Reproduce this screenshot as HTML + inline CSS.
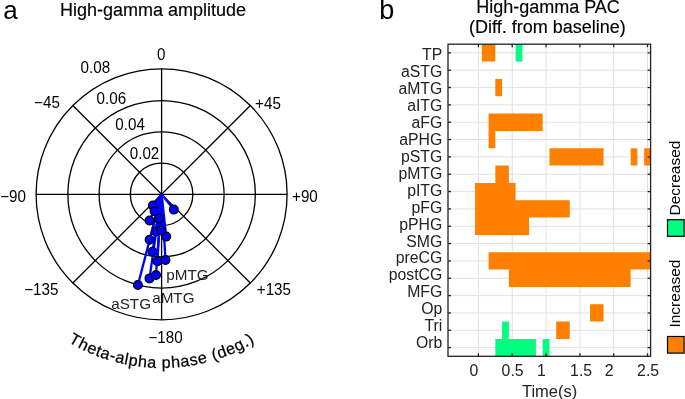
<!DOCTYPE html><html><head><meta charset="utf-8"><style>html,body{margin:0;padding:0;background:#fff;width:685px;height:399px;overflow:hidden}svg{display:block;will-change:transform}text{font-family:"Liberation Sans",sans-serif}</style></head><body>
<svg width="685" height="399" viewBox="0 0 685 399">
<text x="3.3" y="19.0" font-size="26" fill="#000">a</text>
<text x="60" y="15.6" font-size="18" fill="#000" stroke="#000" stroke-width="0.15">High-gamma amplitude</text>
<circle cx="161.6" cy="194.3" r="31.25" fill="none" stroke="#000" stroke-width="1.3"/>
<circle cx="161.6" cy="194.3" r="62.5" fill="none" stroke="#000" stroke-width="1.3"/>
<circle cx="161.6" cy="194.3" r="93.75" fill="none" stroke="#000" stroke-width="1.3"/>
<circle cx="161.6" cy="194.3" r="125.5" fill="none" stroke="#000" stroke-width="1.3"/>
<line x1="161.60" y1="319.80" x2="161.60" y2="68.80" stroke="#000" stroke-width="1.3"/>
<line x1="72.86" y1="283.04" x2="250.34" y2="105.56" stroke="#000" stroke-width="1.3"/>
<line x1="36.10" y1="194.30" x2="287.10" y2="194.30" stroke="#000" stroke-width="1.3"/>
<line x1="72.86" y1="105.56" x2="250.34" y2="283.04" stroke="#000" stroke-width="1.3"/>
<text transform="translate(161.25,60.4) scale(0.95,1)" font-size="16" text-anchor="middle" fill="#000">0</text>
<text transform="translate(95.3,73.4) scale(0.95,1)" font-size="16" text-anchor="middle" fill="#000">0.08</text>
<text transform="translate(111.4,104.2) scale(0.95,1)" font-size="16" text-anchor="middle" fill="#000">0.06</text>
<text transform="translate(130.1,130.1) scale(0.95,1)" font-size="16" text-anchor="middle" fill="#000">0.04</text>
<text transform="translate(144.5,158.9) scale(0.95,1)" font-size="16" text-anchor="middle" fill="#000">0.02</text>
<text transform="translate(47.0,108.2) scale(0.95,1)" font-size="16" text-anchor="middle" fill="#000">&#8722;45</text>
<text transform="translate(268.0,108.9) scale(0.95,1)" font-size="16" text-anchor="middle" fill="#000">+45</text>
<text transform="translate(25.9,202.1) scale(0.95,1)" font-size="16" text-anchor="end" fill="#000">&#8722;90</text>
<text transform="translate(304.9,202.1) scale(0.95,1)" font-size="16" text-anchor="middle" fill="#000">+90</text>
<text transform="translate(41.3,295.3) scale(0.95,1)" font-size="16" text-anchor="middle" fill="#000">&#8722;135</text>
<text transform="translate(273.9,295.3) scale(0.95,1)" font-size="16" text-anchor="middle" fill="#000">+135</text>
<text transform="translate(165.5,342.9) scale(0.95,1)" font-size="16" text-anchor="middle" fill="#000">&#8722;180</text>
<line x1="161.6" y1="194.3" x2="137.9" y2="285.0" stroke="#0000ff" stroke-width="2.3"/>
<circle cx="137.9" cy="285.0" r="4.4" fill="#0000ff" stroke="#000" stroke-width="1.2"/>
<line x1="161.6" y1="194.3" x2="149.5" y2="278.4" stroke="#0000ff" stroke-width="2.3"/>
<circle cx="149.5" cy="278.4" r="4.4" fill="#0000ff" stroke="#000" stroke-width="1.2"/>
<line x1="161.6" y1="194.3" x2="149.6" y2="239.7" stroke="#0000ff" stroke-width="2.3"/>
<line x1="161.6" y1="194.3" x2="166.2" y2="236.6" stroke="#0000ff" stroke-width="2.3"/>
<line x1="161.6" y1="194.3" x2="165.5" y2="260.0" stroke="#0000ff" stroke-width="2.3"/>
<line x1="161.6" y1="194.3" x2="173.8" y2="209.6" stroke="#0000ff" stroke-width="2.3"/>
<line x1="161.6" y1="194.3" x2="161.2" y2="230.5" stroke="#0000ff" stroke-width="2.3"/>
<line x1="161.6" y1="194.3" x2="152.5" y2="251.8" stroke="#0000ff" stroke-width="2.3"/>
<line x1="161.6" y1="194.3" x2="152.9" y2="205.6" stroke="#0000ff" stroke-width="2.3"/>
<circle cx="152.9" cy="205.6" r="4.4" fill="#0000ff" stroke="#000" stroke-width="1.2"/>
<line x1="161.6" y1="194.3" x2="149.5" y2="220.5" stroke="#0000ff" stroke-width="2.3"/>
<line x1="161.6" y1="194.3" x2="154.6" y2="211.2" stroke="#0000ff" stroke-width="2.3"/>
<circle cx="154.6" cy="211.2" r="4.4" fill="#0000ff" stroke="#000" stroke-width="1.2"/>
<line x1="161.6" y1="194.3" x2="159.1" y2="218.6" stroke="#0000ff" stroke-width="2.3"/>
<line x1="161.6" y1="194.3" x2="156.0" y2="231.4" stroke="#0000ff" stroke-width="2.3"/>
<circle cx="152.5" cy="251.8" r="4.4" fill="#0000ff" stroke="#000" stroke-width="1.2"/>
<line x1="161.6" y1="194.3" x2="157.4" y2="261.3" stroke="#0000ff" stroke-width="2.3"/>
<line x1="161.6" y1="194.3" x2="156.0" y2="275.0" stroke="#0000ff" stroke-width="2.3"/>
<circle cx="156.0" cy="275.0" r="4.4" fill="#0000ff" stroke="#000" stroke-width="1.2"/>
<circle cx="149.5" cy="220.5" r="4.4" fill="#0000ff" stroke="#000" stroke-width="1.2"/>
<circle cx="159.1" cy="218.6" r="4.4" fill="#0000ff" stroke="#000" stroke-width="1.2"/>
<circle cx="149.6" cy="239.7" r="4.4" fill="#0000ff" stroke="#000" stroke-width="1.2"/>
<circle cx="156.0" cy="231.4" r="4.4" fill="#0000ff" stroke="#000" stroke-width="1.2"/>
<circle cx="166.2" cy="236.6" r="4.4" fill="#0000ff" stroke="#000" stroke-width="1.2"/>
<circle cx="161.2" cy="230.5" r="4.4" fill="#0000ff" stroke="#000" stroke-width="1.2"/>
<circle cx="157.4" cy="261.3" r="4.4" fill="#0000ff" stroke="#000" stroke-width="1.2"/>
<circle cx="165.5" cy="260.0" r="4.4" fill="#0000ff" stroke="#000" stroke-width="1.2"/>
<circle cx="173.8" cy="209.6" r="4.4" fill="#0000ff" stroke="#000" stroke-width="1.2"/>
<text transform="translate(166.3,280.2) scale(1.03,1)" font-size="14.8" text-anchor="start" fill="#222">pMTG</text>
<text transform="translate(152.2,303.0) scale(1.03,1)" font-size="14.8" text-anchor="start" fill="#222">aMTG</text>
<text transform="translate(111.2,309.1) scale(1.03,1)" font-size="14.8" text-anchor="start" fill="#222">aSTG</text>
<path id="arc" d="M -20.00 186.2 A 181.8 181.8 0 0 0 343.60 186.2" fill="none"/>
<text font-size="16.2" fill="#000" stroke="#000" stroke-width="0.25" letter-spacing="0.62"><textPath href="#arc" startOffset="50%" text-anchor="middle">Theta-alpha phase (deg.)</textPath></text>
<text x="379.2" y="18.9" font-size="27" fill="#000">b</text>
<text x="548" y="12.8" font-size="18" text-anchor="middle" fill="#000" stroke="#000" stroke-width="0.15">High-gamma PAC</text>
<text x="547.4" y="32.6" font-size="18" text-anchor="middle" fill="#000" stroke="#000" stroke-width="0.15">(Diff. from baseline)</text>
<line x1="448.0" y1="52.87" x2="650.6" y2="52.87" stroke="#e0e0e0" stroke-width="1"/>
<line x1="448.0" y1="70.21" x2="650.6" y2="70.21" stroke="#e0e0e0" stroke-width="1"/>
<line x1="448.0" y1="87.55" x2="650.6" y2="87.55" stroke="#e0e0e0" stroke-width="1"/>
<line x1="448.0" y1="104.89" x2="650.6" y2="104.89" stroke="#e0e0e0" stroke-width="1"/>
<line x1="448.0" y1="122.23" x2="650.6" y2="122.23" stroke="#e0e0e0" stroke-width="1"/>
<line x1="448.0" y1="139.56" x2="650.6" y2="139.56" stroke="#e0e0e0" stroke-width="1"/>
<line x1="448.0" y1="156.90" x2="650.6" y2="156.90" stroke="#e0e0e0" stroke-width="1"/>
<line x1="448.0" y1="174.24" x2="650.6" y2="174.24" stroke="#e0e0e0" stroke-width="1"/>
<line x1="448.0" y1="191.58" x2="650.6" y2="191.58" stroke="#e0e0e0" stroke-width="1"/>
<line x1="448.0" y1="208.92" x2="650.6" y2="208.92" stroke="#e0e0e0" stroke-width="1"/>
<line x1="448.0" y1="226.26" x2="650.6" y2="226.26" stroke="#e0e0e0" stroke-width="1"/>
<line x1="448.0" y1="243.60" x2="650.6" y2="243.60" stroke="#e0e0e0" stroke-width="1"/>
<line x1="448.0" y1="260.94" x2="650.6" y2="260.94" stroke="#e0e0e0" stroke-width="1"/>
<line x1="448.0" y1="278.27" x2="650.6" y2="278.27" stroke="#e0e0e0" stroke-width="1"/>
<line x1="448.0" y1="295.61" x2="650.6" y2="295.61" stroke="#e0e0e0" stroke-width="1"/>
<line x1="448.0" y1="312.95" x2="650.6" y2="312.95" stroke="#e0e0e0" stroke-width="1"/>
<line x1="448.0" y1="330.29" x2="650.6" y2="330.29" stroke="#e0e0e0" stroke-width="1"/>
<line x1="448.0" y1="347.63" x2="650.6" y2="347.63" stroke="#e0e0e0" stroke-width="1"/>
<line x1="478.40" y1="44.2" x2="478.40" y2="356.3" stroke="#e0e0e0" stroke-width="1"/>
<line x1="512.23" y1="44.2" x2="512.23" y2="356.3" stroke="#e0e0e0" stroke-width="1"/>
<line x1="546.05" y1="44.2" x2="546.05" y2="356.3" stroke="#e0e0e0" stroke-width="1"/>
<line x1="579.88" y1="44.2" x2="579.88" y2="356.3" stroke="#e0e0e0" stroke-width="1"/>
<line x1="613.70" y1="44.2" x2="613.70" y2="356.3" stroke="#e0e0e0" stroke-width="1"/>
<line x1="647.52" y1="44.2" x2="647.52" y2="356.3" stroke="#e0e0e0" stroke-width="1"/>
<path d="M481.80 44.20H495.33V61.54H481.80Z M495.33 78.88H502.10V96.22H495.33Z M488.56 113.56H542.69V130.89H488.56Z M488.56 130.89H495.33V148.23H488.56Z M549.45 148.23H603.57V165.57H549.45Z M630.63 148.23H637.39V165.57H630.63Z M644.16 148.23H650.60V165.57H644.16Z M495.33 165.57H508.86V182.91H495.33Z M475.04 182.91H515.62V200.25H475.04Z M475.04 200.25H569.75V217.59H475.04Z M475.04 217.59H529.15V234.93H475.04Z M488.56 252.27H650.60V269.61H488.56Z M508.86 269.61H630.63V286.94H508.86Z M590.04 304.28H603.57V321.62H590.04Z M556.22 321.62H569.75V338.96H556.22Z" fill="#ff8000"/>
<path d="M515.62 44.20H522.39V61.54H515.62Z M502.10 321.62H508.86V338.96H502.10Z M495.33 338.96H535.92V356.30H495.33Z M542.69 338.96H549.45V356.30H542.69Z" fill="#00ff80"/>
<line x1="448.0" y1="52.87" x2="451.0" y2="52.87" stroke="#222" stroke-width="1.3"/>
<line x1="647.6" y1="52.87" x2="650.6" y2="52.87" stroke="#222" stroke-width="1.3"/>
<line x1="448.0" y1="70.21" x2="451.0" y2="70.21" stroke="#222" stroke-width="1.3"/>
<line x1="647.6" y1="70.21" x2="650.6" y2="70.21" stroke="#222" stroke-width="1.3"/>
<line x1="448.0" y1="87.55" x2="451.0" y2="87.55" stroke="#222" stroke-width="1.3"/>
<line x1="647.6" y1="87.55" x2="650.6" y2="87.55" stroke="#222" stroke-width="1.3"/>
<line x1="448.0" y1="104.89" x2="451.0" y2="104.89" stroke="#222" stroke-width="1.3"/>
<line x1="647.6" y1="104.89" x2="650.6" y2="104.89" stroke="#222" stroke-width="1.3"/>
<line x1="448.0" y1="122.23" x2="451.0" y2="122.23" stroke="#222" stroke-width="1.3"/>
<line x1="647.6" y1="122.23" x2="650.6" y2="122.23" stroke="#222" stroke-width="1.3"/>
<line x1="448.0" y1="139.56" x2="451.0" y2="139.56" stroke="#222" stroke-width="1.3"/>
<line x1="647.6" y1="139.56" x2="650.6" y2="139.56" stroke="#222" stroke-width="1.3"/>
<line x1="448.0" y1="156.90" x2="451.0" y2="156.90" stroke="#222" stroke-width="1.3"/>
<line x1="647.6" y1="156.90" x2="650.6" y2="156.90" stroke="#222" stroke-width="1.3"/>
<line x1="448.0" y1="174.24" x2="451.0" y2="174.24" stroke="#222" stroke-width="1.3"/>
<line x1="647.6" y1="174.24" x2="650.6" y2="174.24" stroke="#222" stroke-width="1.3"/>
<line x1="448.0" y1="191.58" x2="451.0" y2="191.58" stroke="#222" stroke-width="1.3"/>
<line x1="647.6" y1="191.58" x2="650.6" y2="191.58" stroke="#222" stroke-width="1.3"/>
<line x1="448.0" y1="208.92" x2="451.0" y2="208.92" stroke="#222" stroke-width="1.3"/>
<line x1="647.6" y1="208.92" x2="650.6" y2="208.92" stroke="#222" stroke-width="1.3"/>
<line x1="448.0" y1="226.26" x2="451.0" y2="226.26" stroke="#222" stroke-width="1.3"/>
<line x1="647.6" y1="226.26" x2="650.6" y2="226.26" stroke="#222" stroke-width="1.3"/>
<line x1="448.0" y1="243.60" x2="451.0" y2="243.60" stroke="#222" stroke-width="1.3"/>
<line x1="647.6" y1="243.60" x2="650.6" y2="243.60" stroke="#222" stroke-width="1.3"/>
<line x1="448.0" y1="260.94" x2="451.0" y2="260.94" stroke="#222" stroke-width="1.3"/>
<line x1="647.6" y1="260.94" x2="650.6" y2="260.94" stroke="#222" stroke-width="1.3"/>
<line x1="448.0" y1="278.27" x2="451.0" y2="278.27" stroke="#222" stroke-width="1.3"/>
<line x1="647.6" y1="278.27" x2="650.6" y2="278.27" stroke="#222" stroke-width="1.3"/>
<line x1="448.0" y1="295.61" x2="451.0" y2="295.61" stroke="#222" stroke-width="1.3"/>
<line x1="647.6" y1="295.61" x2="650.6" y2="295.61" stroke="#222" stroke-width="1.3"/>
<line x1="448.0" y1="312.95" x2="451.0" y2="312.95" stroke="#222" stroke-width="1.3"/>
<line x1="647.6" y1="312.95" x2="650.6" y2="312.95" stroke="#222" stroke-width="1.3"/>
<line x1="448.0" y1="330.29" x2="451.0" y2="330.29" stroke="#222" stroke-width="1.3"/>
<line x1="647.6" y1="330.29" x2="650.6" y2="330.29" stroke="#222" stroke-width="1.3"/>
<line x1="448.0" y1="347.63" x2="451.0" y2="347.63" stroke="#222" stroke-width="1.3"/>
<line x1="647.6" y1="347.63" x2="650.6" y2="347.63" stroke="#222" stroke-width="1.3"/>
<line x1="478.40" y1="44.2" x2="478.40" y2="47.2" stroke="#222" stroke-width="1.3"/>
<line x1="478.40" y1="353.3" x2="478.40" y2="356.3" stroke="#222" stroke-width="1.3"/>
<line x1="512.23" y1="44.2" x2="512.23" y2="47.2" stroke="#222" stroke-width="1.3"/>
<line x1="512.23" y1="353.3" x2="512.23" y2="356.3" stroke="#222" stroke-width="1.3"/>
<line x1="546.05" y1="44.2" x2="546.05" y2="47.2" stroke="#222" stroke-width="1.3"/>
<line x1="546.05" y1="353.3" x2="546.05" y2="356.3" stroke="#222" stroke-width="1.3"/>
<line x1="579.88" y1="44.2" x2="579.88" y2="47.2" stroke="#222" stroke-width="1.3"/>
<line x1="579.88" y1="353.3" x2="579.88" y2="356.3" stroke="#222" stroke-width="1.3"/>
<line x1="613.70" y1="44.2" x2="613.70" y2="47.2" stroke="#222" stroke-width="1.3"/>
<line x1="613.70" y1="353.3" x2="613.70" y2="356.3" stroke="#222" stroke-width="1.3"/>
<line x1="647.52" y1="44.2" x2="647.52" y2="47.2" stroke="#222" stroke-width="1.3"/>
<line x1="647.52" y1="353.3" x2="647.52" y2="356.3" stroke="#222" stroke-width="1.3"/>
<rect x="448.0" y="44.2" width="202.60" height="312.10" fill="none" stroke="#222" stroke-width="1.3"/>
<text x="442.3" y="60.20" font-size="15.8" text-anchor="end" fill="#222">TP</text>
<text x="442.3" y="77.14" font-size="15.8" text-anchor="end" fill="#222">aSTG</text>
<text x="442.3" y="94.08" font-size="15.8" text-anchor="end" fill="#222">aMTG</text>
<text x="442.3" y="111.02" font-size="15.8" text-anchor="end" fill="#222">aITG</text>
<text x="442.3" y="127.96" font-size="15.8" text-anchor="end" fill="#222">aFG</text>
<text x="442.3" y="144.90" font-size="15.8" text-anchor="end" fill="#222">aPHG</text>
<text x="442.3" y="161.84" font-size="15.8" text-anchor="end" fill="#222">pSTG</text>
<text x="442.3" y="178.78" font-size="15.8" text-anchor="end" fill="#222">pMTG</text>
<text x="442.3" y="195.72" font-size="15.8" text-anchor="end" fill="#222">pITG</text>
<text x="442.3" y="212.66" font-size="15.8" text-anchor="end" fill="#222">pFG</text>
<text x="442.3" y="229.60" font-size="15.8" text-anchor="end" fill="#222">pPHG</text>
<text x="442.3" y="246.54" font-size="15.8" text-anchor="end" fill="#222">SMG</text>
<text x="442.3" y="263.48" font-size="15.8" text-anchor="end" fill="#222">preCG</text>
<text x="442.3" y="280.42" font-size="15.8" text-anchor="end" fill="#222">postCG</text>
<text x="442.3" y="297.36" font-size="15.8" text-anchor="end" fill="#222">MFG</text>
<text x="442.3" y="314.30" font-size="15.8" text-anchor="end" fill="#222">Op</text>
<text x="442.3" y="331.24" font-size="15.8" text-anchor="end" fill="#222">Tri</text>
<text x="442.3" y="348.18" font-size="15.8" text-anchor="end" fill="#222">Orb</text>
<text x="473.8" y="376.3" font-size="15.8" text-anchor="middle" fill="#222">0</text>
<text x="512.6" y="376.3" font-size="15.8" text-anchor="middle" fill="#222">0.5</text>
<text x="541.3" y="376.3" font-size="15.8" text-anchor="middle" fill="#222">1</text>
<text x="581.1" y="376.3" font-size="15.8" text-anchor="middle" fill="#222">1.5</text>
<text x="609.2" y="376.3" font-size="15.8" text-anchor="middle" fill="#222">2</text>
<text x="648.1" y="376.3" font-size="15.8" text-anchor="middle" fill="#222">2.5</text>
<text x="549.6" y="396.6" font-size="16.5" text-anchor="middle" fill="#222">Time(s)</text>
<rect x="667.5" y="219.7" width="16.6" height="16.6" fill="#00ff80" stroke="#000" stroke-width="1.2"/>
<rect x="667.5" y="336.5" width="16.6" height="16.6" fill="#ff8000" stroke="#000" stroke-width="1.2"/>
<text transform="translate(680,215.5) rotate(-90)" font-size="15.5" fill="#000">Decreased</text>
<text transform="translate(680,327.6) rotate(-90)" font-size="15.5" fill="#000">Increased</text>
</svg></body></html>
